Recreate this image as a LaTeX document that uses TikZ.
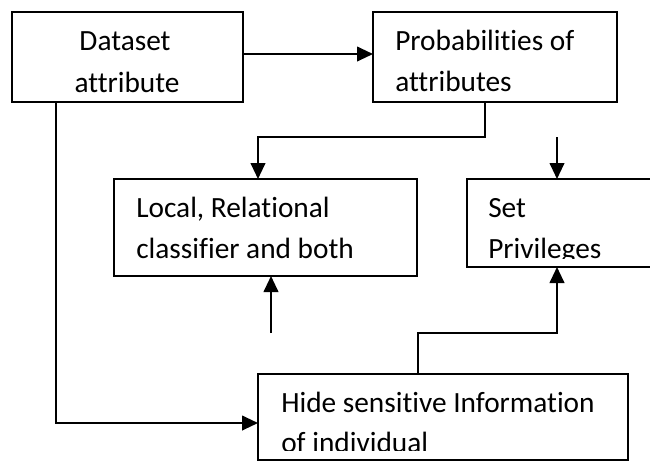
\documentclass[tikz,border=0pt]{standalone}
\usepackage{fontspec}
\setmainfont{Carlito}[Ligatures=NoCommon]
\usetikzlibrary{arrows.meta}
\begin{document}
\begin{tikzpicture}[x=0.75pt,y=-0.75pt,
  box/.style={draw,line width=1.5pt,inner sep=0pt,outer sep=0pt},
  txt/.style={anchor=base west,inner sep=0pt,font=\fontsize{22}{29}\selectfont},
  ctxt/.style={anchor=base,inner sep=0pt,font=\fontsize{22}{29}\selectfont},
  conn/.style={line width=1.5pt},
  arr/.style={conn,-{Triangle[width=11pt,length=12pt]}}]
\useasboundingbox (0,0) rectangle (650,462);
\clip (0,0) rectangle (650,462);
% boxes
\node[box,minimum width=231*0.75pt,minimum height=90*0.75pt] (data) at (127.5,57) {};
\node[box,minimum width=244*0.75pt,minimum height=90*0.75pt] (prob) at (495,57) {};
\node[box,minimum width=303*0.75pt,minimum height=97*0.75pt] (local) at (265.5,227.5) {};
\node[box,minimum width=240*0.75pt,minimum height=88*0.75pt] (set) at (587,223) {};
\node[box,minimum width=370*0.75pt,minimum height=86*0.75pt] (hide) at (443,417) {};
% texts
\node[ctxt] (t1) at (125,50) {Dataset};
\node[ctxt] (t2) at (127,92) {attribute};
\node[txt] (t3) at (395,50) {Probabilities of};
\node[txt] (t4) at (395,91) {attributes};
\node[txt] (t5) at (136,217) {Local, Relational};
\node[txt] (t6) at (136,258) {classifier and both};
\node[txt] (t7) at (488,217) {Set};
\begin{scope}
\clip (470,230) rectangle (650,258);
\node[txt] (t8) at (488,258) {Privileges};
\end{scope}
\node[txt] (t9) at (281,412) {Hide sensitive Information};
\begin{scope}
\clip (262,420) rectangle (625,450);
\node[txt] (t10) at (281,452) {of individual};
\end{scope}
% free ends
\coordinate (c1) at (557,137);
\coordinate (c2) at (271,333);
% connectors
\draw[arr] (data.east |- 0,54) -- (prob.west |- 0,54);
\draw[arr] (prob.south -| 485,0) -- (485,137) -| (local.north -| 258,0);
\draw[arr] (c1) -- (set.north -| c1);
\draw[arr] (c2) -- (local.south -| c2);
\draw[arr] (hide.north -| 418,0) -- (418,333) -| (set.south -| 557,0);
\draw[arr] (data.south -| 56,0) -- (56,423) -- (hide.west |- 0,423);
\end{tikzpicture}
\end{document}
